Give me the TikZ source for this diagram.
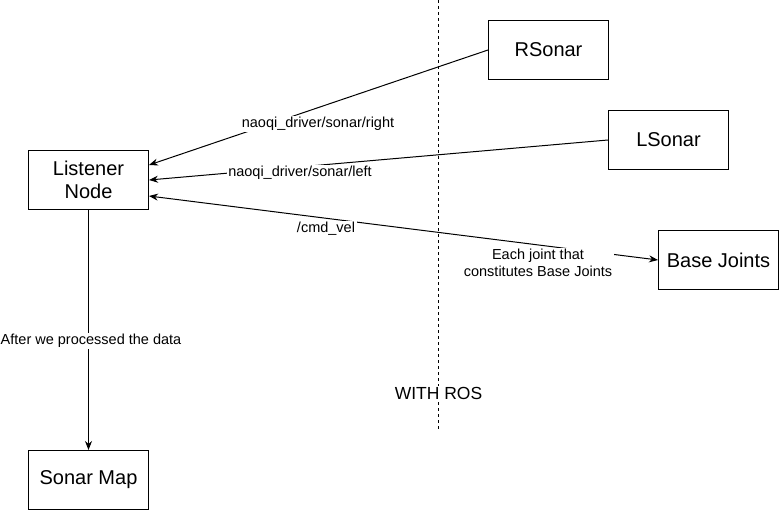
\documentclass[tikz,border=0pt]{standalone}
\usepackage{fontspec}
\setmainfont{Liberation Sans}
\usetikzlibrary{arrows.meta}
\begin{document}
\begin{tikzpicture}[x=1pt,y=-1pt,
  box/.style={draw,line width=1pt,minimum width=120pt,minimum height=59pt,inner sep=0pt,align=center,font=\fontsize{20}{23.5}\selectfont},
  lbl/.style={fill=white,inner sep=1.5pt,font=\fontsize{14.5}{17}\selectfont,align=center},
  biglbl/.style={fill=white,inner sep=1.5pt,font=\fontsize{17.5}{20}\selectfont},
  conn/.style={line width=1pt,-{Stealth[length=9pt,width=7pt]}},
  dual/.style={line width=1pt,{Stealth[length=9pt,width=7pt]}-{Stealth[length=9pt,width=7pt]}},
  divider/.style={line width=1pt,dash pattern=on 3pt off 3pt}
]
\useasboundingbox (0,0) rectangle (779,511);
\node[box] (rs) at (548.5,50) {RSonar};
\node[box] (ls) at (668.5,140) {LSonar};
\node[box] (ln) at (88.5,180) {Listener\\Node};
\node[box] (bj) at (718.5,260) {Base Joints};
\node[box] (sm) at (88.5,480) {Sonar Map};
\coordinate (dtop) at (438.5,0);
\coordinate (dbot) at (438.5,430);
\draw[divider] (dtop) -- (dbot);
\draw[conn] (rs.west) -- ([yshift=15pt]ln.east);
\draw[conn] (ls.west) -- (ln.east);
\draw[dual] ([yshift=-16pt]ln.east) -- (bj.west);
\draw[conn] (ln.south) -- (sm.north);
\node[lbl] (l1) at (318,124) {naoqi\_driver/sonar/right};
\node[lbl] (l2) at (300,173) {naoqi\_driver/sonar/left};
\node[lbl] (l3) at (326,229) {/cmd\_vel};
\node[lbl] (l4) at (538,263) {Each joint that\\constitutes Base Joints};
\node[lbl] (l5) at (91,341) {After we processed the data};
\node[biglbl] (l6) at (438.5,393.5) {WITH ROS};
\end{tikzpicture}
\end{document}
